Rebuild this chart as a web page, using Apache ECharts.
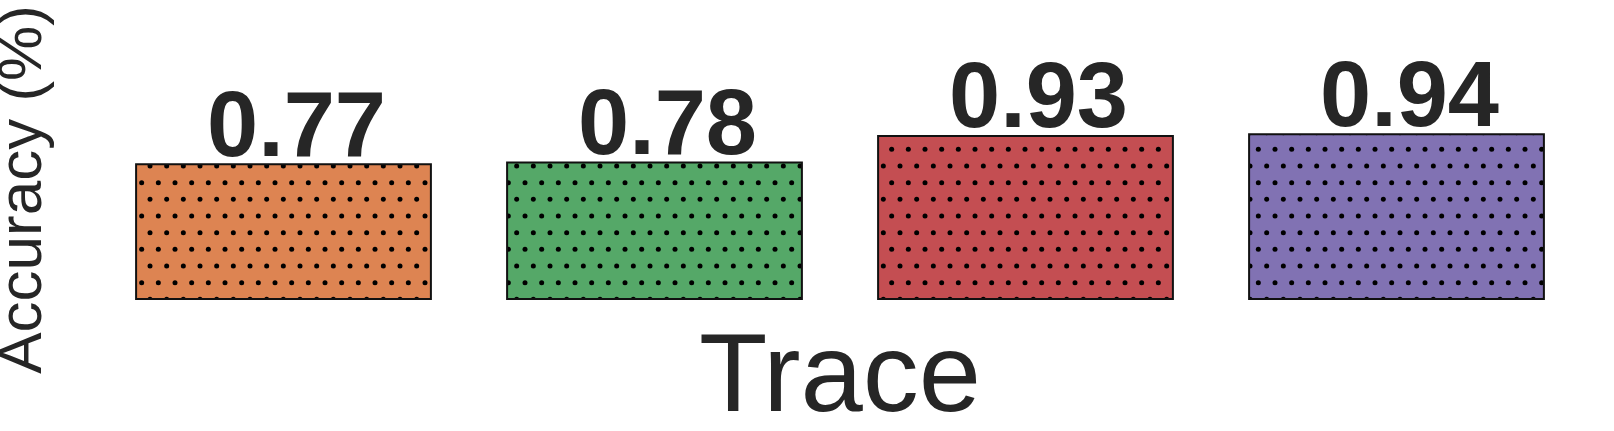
<!DOCTYPE html>
<html>
<head>
<meta charset="utf-8">
<script src="https://cdn.jsdelivr.net/npm/echarts@6/dist/echarts.min.js"></script>
<style>
  html, body { margin: 0; padding: 0; background: #fff; }
  #chart { width: 1614px; height: 431px; }
</style>
</head>
<body>
<div id="chart"></div>
<script>
// data
var categories = ["A", "B", "C", "D"];
var accuracy = [0.77, 0.78, 0.93, 0.94];
var barColors = ["#DD8452", "#55A868", "#C44E52", "#8172B3"];

// '.' hatch: staggered black dots, 16.67px apart
function dotPattern(bg) {
    var c = document.createElement("canvas");
    c.width = 50;
    c.height = 100;
    var ctx = c.getContext("2d");
    ctx.fillStyle = bg;
    ctx.fillRect(0, 0, 50, 100);
    ctx.fillStyle = "#000";
    var step = 50 / 3;
    for (var k = -1; k <= 7; k++) {
        var y = k * step - 0.7;
        var off = (k % 2 === 0) ? 0 : step / 2;
        for (var m = -1; m <= 4; m++) {
            var x = m * step + off;
            ctx.beginPath();
            ctx.arc(x, y, 2.5, 0, Math.PI * 2);
            ctx.fill();
        }
    }
    return c;
}

var chart = echarts.init(document.getElementById("chart"));

chart.setOption({
    animation: false,
    grid: { left: 98, right: 32, top: 79, bottom: 131, outerBoundsMode: "none" },
    xAxis: {
        type: "category",
        data: categories,
        name: "Trace",
        nameLocation: "middle",
        nameGap: 24,
        nameTextStyle: { fontFamily: "Liberation Sans", fontSize: 112, color: "#262626" },
        axisLine: { show: false },
        axisTick: { show: false },
        axisLabel: { show: false }
    },
    yAxis: {
        type: "value",
        min: 0,
        max: 1.245,
        name: "Accuracy (%)",
        nameLocation: "middle",
        nameRotate: 90,
        nameGap: 43,
        nameTextStyle: { fontFamily: "Liberation Sans", fontSize: 62, color: "#262626" },
        axisLine: { show: false },
        axisTick: { show: false },
        axisLabel: { show: false },
        splitLine: { show: false }
    },
    series: [{
        type: "bar",
        barCategoryGap: "20%",
        data: accuracy.map(function (v, i) {
            return {
                value: v,
                itemStyle: {
                    color: { image: dotPattern(barColors[i]), repeat: "repeat" }
                }
            };
        }),
        itemStyle: { borderColor: "#111", borderWidth: 2 },
        label: {
            show: true,
            position: "top",
            distance: -13,
            offset: [13, 0],
            fontFamily: "Liberation Sans",
            fontWeight: "bold",
            fontSize: 92,
            color: "#262626",
            formatter: function (p) { return p.value.toFixed(2); }
        }
    }]
});
</script>
</body>
</html>
